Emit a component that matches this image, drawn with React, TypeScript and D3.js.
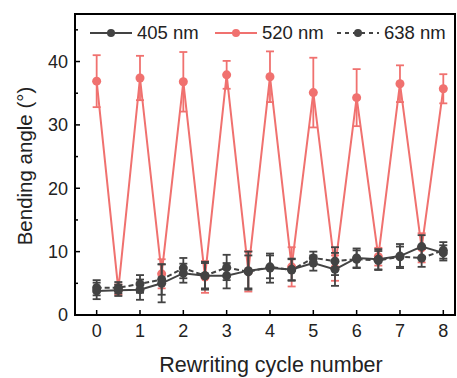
import React from 'react'
import * as d3 from 'd3'

// cycles at 0, 0.5, 1 ... 8
const cycles = [0, 0.5, 1, 1.5, 2, 2.5, 3, 3.5, 4, 4.5, 5, 5.5, 6, 6.5, 7, 7.5, 8]
const nm405 = [3.8, 3.9, 4.0, 5.0, 6.6, 6.2, 6.2, 7.0, 7.4, 7.2, 8.2, 7.2, 9.0, 8.8, 9.3, 10.8, 9.8]
const err405 = [1.3, 0.9, 1.6, 3.0, 1.5, 2.2, 2.0, 3.0, 2.3, 1.7, 1.2, 2.6, 1.5, 1.6, 1.9, 1.8, 1.2]
const nm638 = [4.3, 4.3, 4.9, 5.6, 7.4, 6.2, 7.5, 6.8, 7.6, 7.1, 9.0, 8.5, 8.8, 8.6, 9.2, 9.0, 10.2]
const err638 = [1.2, 0.9, 1.4, 2.4, 1.6, 2.0, 2.0, 2.6, 1.8, 1.7, 1.0, 2.2, 1.4, 1.5, 1.6, 1.4, 1.3]
const nm520 = [36.9, 4.0, 37.4, 6.5, 36.8, 6.0, 37.9, 6.9, 37.6, 7.6, 35.1, 7.4, 34.3, 9.2, 36.5, 10.6, 35.7]
const err520 = [4.1, 0.8, 3.5, 2.3, 4.7, 2.5, 2.2, 3.2, 4.0, 3.1, 5.5, 2.0, 4.5, 1.4, 2.9, 2.3, 2.3]
const yTicks = [0, 10, 20, 30, 40]
const yMinor = [5, 15, 25, 35, 45]
const xTicks = [0, 1, 2, 3, 4, 5, 6, 7, 8]

const RED = '#f0716f'
const DARK = '#434343'

const margin = { left: 75, right: 2, top: 14, bottom: 63 }
const W = 457
const H = 378

function Series({ xs, ys, es, color, dash, x, y }: any) {
  const pts = xs.map((c: number, i: number) => [c, ys[i], es[i]])
  const line = d3.line<any>().x(d => x(d[0])).y(d => y(d[1]))
  return (
    <g>
      {pts.map((d: any, i: number) => (
        <g key={i} stroke={color} strokeWidth={1.8}>
          <line x1={x(d[0])} x2={x(d[0])} y1={y(d[1] - d[2])} y2={y(d[1] + d[2])} />
          <line x1={x(d[0]) - 4} x2={x(d[0]) + 4} y1={y(d[1] - d[2])} y2={y(d[1] - d[2])} />
          <line x1={x(d[0]) - 4} x2={x(d[0]) + 4} y1={y(d[1] + d[2])} y2={y(d[1] + d[2])} />
        </g>
      ))}
      <path d={line(pts) || ''} fill="none" stroke={color} strokeWidth={2} strokeDasharray={dash} />
      {pts.map((d: any, i: number) => (
        <circle key={i} cx={x(d[0])} cy={y(d[1])} r={4.5} fill={color} />
      ))}
    </g>
  )
}

export default function App() {
  const x = d3.scaleLinear().domain([-0.5, 8.27]).range([margin.left, W - margin.right])
  const y = d3.scaleLinear().domain([0, 47.5]).range([H - margin.bottom, margin.top])
  const x0 = margin.left
  const x1 = W - margin.right
  const y0 = H - margin.bottom
  const y1 = margin.top
  const font = "'Liberation Sans', Arial, sans-serif"

  const legend = [
    { label: '405 nm', color: DARK, dash: undefined, lx: 90 },
    { label: '520 nm', color: RED, dash: undefined, lx: 215 },
    { label: '638 nm', color: DARK, dash: '4,4', lx: 337 },
  ]

  return (
    <svg width={W} height={H} style={{ position: 'absolute', left: 0, top: 0, background: '#fff' }} fontFamily={font}>
      <Series xs={cycles} ys={nm520} es={err520} color={RED} x={x} y={y} />
      <Series xs={cycles} ys={nm638} es={err638} color={DARK} dash="5,3" x={x} y={y} />
      <Series xs={cycles} ys={nm405} es={err405} color={DARK} x={x} y={y} />

      <rect x={x0} y={y1} width={x1 - x0} height={y0 - y1} fill="none" stroke="#000" strokeWidth={2} />

      {yTicks.map(t => (
        <g key={t}>
          <line x1={x0} x2={x0 + 5} y1={y(t)} y2={y(t)} stroke="#000" strokeWidth={1.5} />
          <text x={x0 - 7} y={y(t)} dy="0.35em" textAnchor="end" fontSize={18} fill="#222">{t}</text>
        </g>
      ))}
      {yMinor.map(t => (
        <line key={t} x1={x0} x2={x0 + 3} y1={y(t)} y2={y(t)} stroke="#000" strokeWidth={1.5} />
      ))}
      {xTicks.map(t => (
        <g key={t}>
          <line x1={x(t)} x2={x(t)} y1={y0} y2={y0 - 5} stroke="#000" strokeWidth={1.5} />
          <text x={x(t)} y={y0 + 22} textAnchor="middle" fontSize={18} fill="#222">{t}</text>
        </g>
      ))}

      <text x={(x0 + x1) / 2 + 6} y={372} textAnchor="middle" fontSize={21.5} fill="#222">Rewriting cycle number</text>
      <text transform={`translate(32,166) rotate(-90)`} textAnchor="middle" fontSize={20.5} fill="#222">Bending angle (°)</text>

      {legend.map(l => (
        <g key={l.label}>
          <line x1={l.lx} x2={l.lx + 42} y1={33} y2={33} stroke={l.color} strokeWidth={2} strokeDasharray={l.dash} />
          <circle cx={l.lx + 21} cy={33} r={4} fill={l.color} />
          <text x={l.lx + 47} y={33} dy="0.35em" fontSize={18.5} fill="#222">{l.label}</text>
        </g>
      ))}
    </svg>
  )
}
